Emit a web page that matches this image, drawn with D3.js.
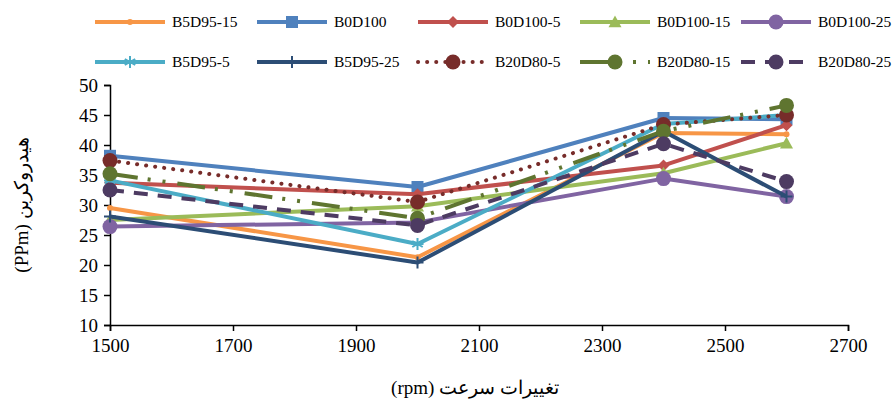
<!DOCTYPE html>
<html>
<head>
<meta charset="utf-8">
<script src="https://cdn.jsdelivr.net/npm/d3@7"></script>
<style>
  html, body { margin: 0; padding: 0; background: #fff; }
  svg { display: block; }
  text { font-family: "Liberation Serif", "Times New Roman", "DejaVu Serif", serif; fill: #000; }
</style>
</head>
<body>
<svg id="chart" width="893" height="403"></svg>
<script>
// ---- Data ----
const speeds = [1500, 2000, 2400, 2600];
const xTicks = [1500, 1700, 1900, 2100, 2300, 2500, 2700];
const yTicks = [10, 15, 20, 25, 30, 35, 40, 45, 50];
const seriesNames = ["B5D95-15", "B0D100", "B0D100-5", "B0D100-15", "B0D100-25",
                     "B5D95-5", "B5D95-25", "B20D80-5", "B20D80-15", "B20D80-25"];
const B5D95_15  = [29.5, 21.3, 42.0, 41.8];
const B0D100    = [38.2, 33.0, 44.5, 44.3];
const B0D100_5  = [33.7, 31.8, 36.6, 43.3];
const B0D100_15 = [27.5, 29.8, 35.3, 40.3];
const B0D100_25 = [26.4, 27.1, 34.4, 31.4];
const B5D95_5   = [34.1, 23.5, 43.5, 45.0];
const B5D95_25  = [28.1, 20.4, 42.3, 31.4];
const B20D80_5  = [37.4, 30.5, 43.4, 45.0];
const B20D80_15 = [35.2, 27.8, 42.3, 46.6];
const B20D80_25 = [32.5, 26.6, 40.2, 33.9];
const seriesValues = [B5D95_15, B0D100, B0D100_5, B0D100_15, B0D100_25,
                      B5D95_5, B5D95_25, B20D80_5, B20D80_15, B20D80_25];

// ---- Styles ----
const styles = [
  { color: "#F79646", dash: null, marker: "dot", size: 3 },
  { color: "#4F81BD", dash: null, marker: "square", size: 12 },
  { color: "#C0504D", dash: null, marker: "diamond", size: 12 },
  { color: "#9BBB59", dash: null, marker: "triangle", size: 13 },
  { color: "#8064A2", dash: null, marker: "circle", size: 7.5 },
  { color: "#4BACC6", dash: null, marker: "star", size: 12 },
  { color: "#2C4D75", dash: null, marker: "plus", size: 12 },
  { color: "#772C2A", dash: "0.1 9", cap: "round", marker: "circle", size: 7.5 },
  { color: "#5F7530", dash: "28 10 3 12 3 12", marker: "circle", size: 7.5 },
  { color: "#4D3B62", dash: "14 10", marker: "circle", size: 7.5 }
];

const svg = d3.select("#chart");
const x = d3.scaleLinear().domain([1500, 2700]).range([110, 848]);
const y = d3.scaleLinear().domain([10, 50]).range([325, 85]);

// Axes
const xAxis = svg.append("g").attr("transform", `translate(0,${y(10)})`)
  .call(d3.axisBottom(x).tickValues(xTicks).tickSize(6).tickPadding(8).tickFormat(d3.format("d")));
const yAxis = svg.append("g").attr("transform", `translate(${x(1500)},0)`)
  .call(d3.axisLeft(y).tickValues(yTicks).tickSize(6).tickPadding(6).tickFormat(d3.format("d")));
[xAxis, yAxis].forEach(a => {
  a.select(".domain").attr("stroke", "#000").attr("stroke-width", 1.5);
  a.selectAll(".tick line").attr("stroke", "#000").attr("stroke-width", 1.5);
  a.selectAll(".tick text").style("font-family", '"Liberation Serif", "Times New Roman", serif')
    .style("font-size", "19px").attr("fill", "#000");
});
yAxis.selectAll(".tick text").attr("dy", "0.34em");

function drawMarker(g, st, cx, cy) {
  const c = st.color;
  if (st.marker === "circle") {
    g.append("circle").attr("cx", cx).attr("cy", cy).attr("r", st.size).attr("fill", c);
  } else if (st.marker === "dot") {
    g.append("circle").attr("cx", cx).attr("cy", cy).attr("r", st.size).attr("fill", c);
  } else if (st.marker === "square") {
    g.append("rect").attr("x", cx - st.size / 2).attr("y", cy - st.size / 2)
      .attr("width", st.size).attr("height", st.size).attr("fill", c);
  } else if (st.marker === "diamond") {
    const s = st.size / 2;
    g.append("path").attr("d", `M${cx},${cy - s}L${cx + s},${cy}L${cx},${cy + s}L${cx - s},${cy}Z`).attr("fill", c);
  } else if (st.marker === "triangle") {
    const s = st.size / 2;
    g.append("path").attr("d", `M${cx},${cy - s}L${cx + s},${cy + s * 0.8}L${cx - s},${cy + s * 0.8}Z`).attr("fill", c);
  } else if (st.marker === "star") {
    const s = st.size / 2;
    const d = [0, 60, 120].map(a => {
      const r = a * Math.PI / 180;
      return `M${cx - s * Math.sin(r)},${cy - s * Math.cos(r)}L${cx + s * Math.sin(r)},${cy + s * Math.cos(r)}`;
    }).join("") + `M${cx - s},${cy}L${cx + s},${cy}`;
    g.append("path").attr("d", d).attr("stroke", c).attr("stroke-width", 2).attr("fill", "none");
  } else if (st.marker === "plus") {
    const s = st.size / 2;
    g.append("path").attr("d", `M${cx - s},${cy}L${cx + s},${cy}M${cx},${cy - s}L${cx},${cy + s}`)
      .attr("stroke", c).attr("stroke-width", 2).attr("fill", "none");
  }
}

// Series
const line = d3.line().x((d, i) => x(speeds[i])).y(d => y(d));
seriesValues.forEach((vals, si) => {
  const st = styles[si];
  const g = svg.append("g");
  g.append("path").datum(vals).attr("d", line)
    .attr("fill", "none").attr("stroke", st.color).attr("stroke-width", 4)
    .attr("stroke-linecap", st.cap || "butt").attr("stroke-linejoin", "round")
    .attr("stroke-dasharray", st.dash);
  vals.forEach((v, i) => drawMarker(g, st, x(speeds[i]), y(v)));
});

// Legend
const legCols = [95, 257, 418, 580, 741];
const legRows = [22, 62];
seriesNames.forEach((name, i) => {
  const st = styles[i];
  const lx = legCols[i % 5], ly = legRows[Math.floor(i / 5)];
  const g = svg.append("g");
  g.append("line").attr("x1", lx).attr("x2", lx + 70).attr("y1", ly).attr("y2", ly)
    .attr("stroke", st.color).attr("stroke-width", 4)
    .attr("stroke-linecap", st.cap || "butt").attr("stroke-dasharray", st.dash);
  drawMarker(g, st, lx + 35, ly);
  g.append("text").attr("x", lx + 77).attr("y", ly).attr("dy", "0.34em")
    .style("font-size", "15.5px").text(name);
});

// Axis titles
svg.append("text").attr("x", 475).attr("y", 394).attr("text-anchor", "middle")
  .style("font-size", "19px").text("(rpm) تغییرات سرعت");
svg.append("text").attr("transform", "translate(28,205) rotate(-90)").attr("text-anchor", "middle")
  .style("font-size", "19px").text("(PPm) هیدروکربن");
</script>
</body>
</html>
